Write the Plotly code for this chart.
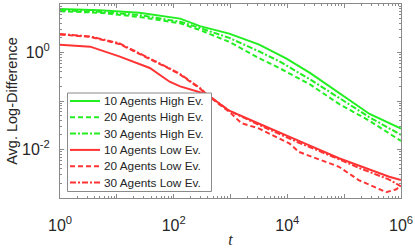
import plotly.graph_objects as go

# ---- data ----
t_gs = [1, 5, 25, 130, 290, 950, 3200, 9500, 25000, 81000, 280000, 1000000]
y_gs = [7.9, 7.4, 6.6, 5.0, 3.5, 2.45, 1.45, 0.76, 0.38, 0.15, 0.054, 0.027]

t_gd = [1, 5, 25, 130, 290, 950, 3200, 7200, 25000, 81000, 280000, 1000000]
y_gd = [7.1, 6.6, 5.4, 4.0, 2.9, 1.66, 0.76, 0.48, 0.22, 0.087, 0.039, 0.015]

t_gdd = [1, 5, 25, 130, 290, 950, 3200, 7200, 25000, 81000, 280000, 1000000]
y_gdd = [7.4, 6.9, 5.9, 4.3, 3.2, 2.0, 1.05, 0.66, 0.28, 0.117, 0.046, 0.020]

t_rs = [1, 3.4, 11, 38, 85, 130, 380, 950, 3200, 11000, 16000, 81000, 180000, 620000, 1000000]
y_rs = [1.45, 1.32, 0.83, 0.48, 0.25, 0.2, 0.138, 0.063, 0.034, 0.0178, 0.0151, 0.0066, 0.0047, 0.00275, 0.00234]

t_rd = [1, 3.4, 11, 38, 85, 130, 290, 380, 950, 1550, 3200, 11000, 16000, 81000, 180000, 550000, 810000, 1000000]
y_rd = [2.35, 2.1, 1.5, 0.74, 0.46, 0.35, 0.18, 0.135, 0.06, 0.035, 0.027, 0.0132, 0.0089, 0.0044, 0.00234, 0.00132, 0.0015, 0.00178]

t_rdd = [1, 3.4, 11, 38, 85, 130, 290, 380, 950, 3200, 11000, 16000, 81000, 180000, 620000, 1000000]
y_rdd = [2.4, 2.14, 1.55, 0.76, 0.47, 0.36, 0.186, 0.138, 0.063, 0.032, 0.0166, 0.0138, 0.0063, 0.0042, 0.0024, 0.00174]

names = ["10 Agents High Ev.", "20 Agents High Ev.", "30 Agents High Ev.",
         "10 Agents Low Ev.", "20 Agents Low Ev.", "30 Agents Low Ev."]

x_tickvals = [1, 10, 100, 1000, 10000, 100000, 1000000]
x_ticktext = ["10<sup>0</sup>", "", "10<sup>2</sup>", "", "10<sup>4</sup>", "", "10<sup>6</sup>"]
y_tickvals = [0.001, 0.01, 0.1, 1, 10]
y_ticktext = ["", "10<sup>-2</sup>", "", "10<sup>0</sup>", ""]

GREEN = "#22ee22"
RED = "#ff3333"
DASH = "5px,3px"
DASHDOT = "6px,2px,2px,2px"

series = [
    (t_gs, y_gs, GREEN, "solid"),
    (t_gd, y_gd, GREEN, DASH),
    (t_gdd, y_gdd, GREEN, DASHDOT),
    (t_rs, y_rs, RED, "solid"),
    (t_rd, y_rd, RED, DASH),
    (t_rdd, y_rdd, RED, DASHDOT),
]

W, H = 415, 248
ML, MR, MT, MB = 60, 14, 4, 50
PW, PH = W - ML - MR, H - MT - MB

def px(x):
    return (x - ML) / PW

def py(y):
    return (H - MB - y) / PH

fig = go.Figure()
for (tx, ty, col, dash), nm in zip(series, names):
    fig.add_trace(go.Scatter(x=tx, y=ty, mode="lines", name=nm, showlegend=False,
                             line=dict(color=col, width=2, dash=dash)))

def minor_vals(lo, hi):
    v = []
    for e in range(lo, hi):
        for m in range(2, 10):
            v.append(m * 10 ** e)
    return v

axcol = "#8a8a8a"
txtcol = "#262626"
fig.update_xaxes(type="log", range=[0, 6], tickmode="array",
                 tickvals=x_tickvals, ticktext=x_ticktext, automargin=False,
                 ticks="inside", ticklen=4, tickcolor=axcol,
                 showline=True, linecolor=axcol, linewidth=1, mirror="ticks",
                 showgrid=False, zeroline=False, ticklabelstandoff=13,
                 minor=dict(tickvals=minor_vals(0, 6), ticks="inside", ticklen=2, tickcolor=axcol),
                 tickfont=dict(family="Liberation Sans, Arial", size=16, color=txtcol),
                 title=dict(text="<i>t</i>", font=dict(family="Liberation Serif", size=16, color=txtcol), standoff=0))
fig.update_yaxes(type="log", range=[-3, 1], tickmode="array",
                 tickvals=y_tickvals, ticktext=y_ticktext, automargin=False,
                 ticks="inside", ticklen=4, tickcolor=axcol,
                 showline=True, linecolor=axcol, linewidth=1, mirror="ticks",
                 showgrid=False, zeroline=False, ticklabelstandoff=6,
                 minor=dict(tickvals=minor_vals(-3, 1), ticks="inside", ticklen=2, tickcolor=axcol),
                 tickfont=dict(family="Liberation Sans, Arial", size=16, color=txtcol),
                 title=dict(text="Avg. Log-Difference", font=dict(family="Liberation Sans, Arial", size=14.5, color=txtcol), standoff=0))

# ---- legend drawn as a box (layout element, not data) ----
shapes = [dict(type="rect", xref="paper", yref="paper",
               x0=px(67.5), x1=px(211.5), y0=py(191.5), y1=py(93),
               line=dict(color=axcol, width=1), fillcolor="white", layer="above")]
annotations = []
row0, gap = 101, 16.3
for i, ((tx, ty, col, dash), nm) in enumerate(zip(series, names)):
    yc = row0 + gap * i
    shapes.append(dict(type="line", xref="paper", yref="paper",
                       x0=px(70), x1=px(100), y0=py(yc), y1=py(yc),
                       line=dict(color=col, width=2, dash=dash), layer="above"))
    annotations.append(dict(xref="paper", yref="paper", x=px(102), y=py(yc),
                            xanchor="left", yanchor="middle", showarrow=False,
                            text=nm, font=dict(family="Liberation Sans, Arial", size=11.8, color=txtcol)))

fig.update_layout(
    width=W, height=H,
    margin=dict(l=ML, r=MR, t=MT, b=MB, autoexpand=False),
    paper_bgcolor="white", plot_bgcolor="white",
    showlegend=False,
    shapes=shapes, annotations=annotations,
)

fig.write_html("out.html", config={"displayModeBar": False},
               post_script="document.body.style.margin='0';document.body.style.overflow='hidden';")
